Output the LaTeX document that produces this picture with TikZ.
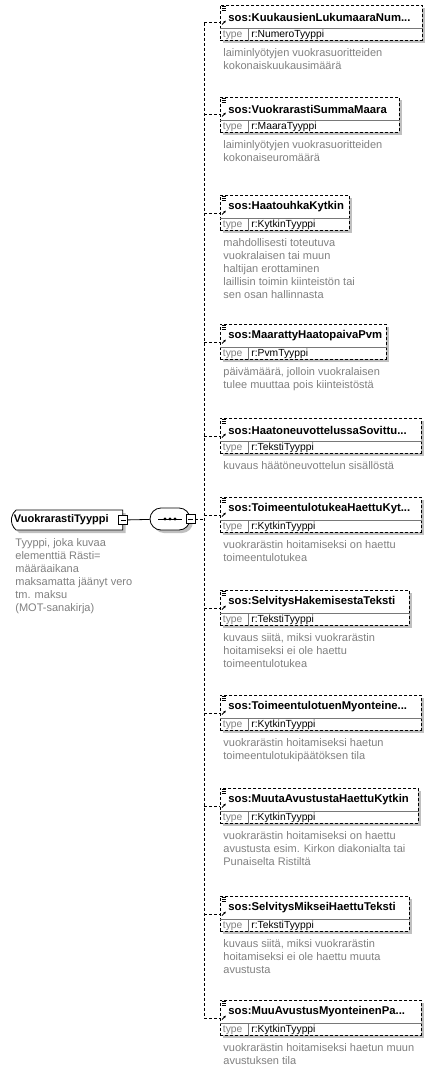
\documentclass[tikz,border=0pt]{standalone}
\usepackage{fontspec}
\setmainfont{Liberation Sans}
\usetikzlibrary{positioning, calc, arrows.meta, shadows, shapes.misc}

\definecolor{shadowgray}{RGB}{192,192,192}
\definecolor{descgray}{RGB}{128,128,128}
\definecolor{rulegray}{RGB}{120,120,120}

\begin{document}
\begin{tikzpicture}[
  x=1pt, y=-1pt, line width=0.8pt,
  >={Latex[length=2.5pt, width=2.5pt]},
  conn/.style     = {dash pattern=on 3pt off 2pt},
  boxshadow/.style= {drop shadow={shadow xshift=3pt, shadow yshift=-3pt, fill=shadowgray, opacity=1}},
  elem/.style     = {draw, conn, fill=white, rectangle, inner sep=0pt, minimum height=35pt, anchor=north west, boxshadow},
  elname/.style   = {font=\fontsize{11.3}{13}\selectfont\bfseries, inner sep=0pt, anchor=west},
  eltype/.style   = {font=\fontsize{10.3}{12}\selectfont, inner sep=0pt, anchor=west},
  desc/.style     = {font=\fontsize{11}{13}\selectfont, text=descgray, align=left, inner sep=0pt, anchor=north west},
  minusbox/.style = {draw, solid, fill=white, minimum size=9pt, inner sep=0pt,
                     path picture={\draw ([xshift=2pt]path picture bounding box.west) -- ([xshift=-2pt]path picture bounding box.east);}},
  rootbox/.style  = {draw, fill=white, rounded rectangle, rounded rectangle east arc=none, rounded rectangle arc length=100,
                     minimum height=20pt, inner xsep=0pt, inner ysep=0pt, font=\fontsize{11}{13}\selectfont\bfseries, boxshadow},
  seqbox/.style   = {draw, fill=white, rounded rectangle, minimum width=40pt, minimum height=22pt, inner sep=0pt, boxshadow},
]
  \useasboundingbox (0,0) rectangle (435,1086);

  % root type and compositor
  \node[rootbox, anchor=west] (root) at (11,520) {\kern1.5pt VuokrarastiTyyppi\kern14pt};
  \node[minusbox] (rootm) at (root.east) {};
  \node[desc] (rootdesc) at (15,538) {Tyyppi, joka kuvaa\\elementtiä Rästi=\\määräaikana\\maksamatta jäänyt vero\\tm. maksu\\(MOT-sanakirja)};

  \node[seqbox] (seq) at (170,519) {};
  \node[minusbox] (seqm) at (seq.east) {};
  \draw (seq.center) ++(-12,0) -- ++(24,0);
  \foreach \dx in {-5,0,5} \fill ($(seq.center)+(\dx,0)$) circle (1.7pt);

  \coordinate (spine) at (204,519);
  \draw (rootm) -- (seq);
  \draw[conn] (seqm.east) -- (spine);

  % child elements
  \foreach \i/\top/\w/\name/\type/\txt in {
    1/5/202/{sos:KuukausienLukumaaraNum...}/{r:NumeroTyyppi}/{laiminlyötyjen vuokrasuoritteiden\\kokonaiskuukausimäärä},
    2/97/179/{sos:VuokrarastiSummaMaara}/{r:MaaraTyyppi}/{laiminlyötyjen vuokrasuoritteiden\\kokonaiseuromäärä},
    3/195/129/{sos:HaatouhkaKytkin}/{r:KytkinTyyppi}/{mahdollisesti toteutuva\\vuokralaisen tai muun\\haltijan erottaminen\\laillisin toimin kiinteistön tai\\sen osan hallinnasta},
    4/324/166/{sos:MaarattyHaatopaivaPvm}/{r:PvmTyyppi}/{päivämäärä, jolloin vuokralaisen\\tulee muuttaa pois kiinteistöstä},
    5/418/201/{sos:HaatoneuvottelussaSovittu...}/{r:TekstiTyyppi}/{kuvaus häätöneuvottelun sisällöstä},
    6/497/201/{sos:ToimeentulotukeaHaettuKyt...}/{r:KytkinTyyppi}/{vuokrarästin hoitamiseksi on haettu\\toimeentulotukea},
    7/590/189/{sos:SelvitysHakemisestaTeksti}/{r:TekstiTyyppi}/{kuvaus siitä, miksi vuokrarästin\\hoitamiseksi ei ole haettu\\toimeentulotukea},
    8/695/201/{sos:ToimeentulotuenMyonteine...}/{r:KytkinTyyppi}/{vuokrarästin hoitamiseksi haetun\\toimeentulotukipäätöksen tila},
    9/788/198/{sos:MuutaAvustustaHaettuKytkin}/{r:KytkinTyyppi}/{vuokrarästin hoitamiseksi on haettu\\avustusta esim. Kirkon diakonialta tai\\Punaiselta Ristiltä},
    10/896/189/{sos:SelvitysMikseiHaettuTeksti}/{r:TekstiTyyppi}/{kuvaus siitä, miksi vuokrarästin\\hoitamiseksi ei ole haettu muuta\\avustusta},
    11/1000/201/{sos:MuuAvustusMyonteinenPa...}/{r:KytkinTyyppi}/{vuokrarästin hoitamiseksi haetun muun\\avustuksen tila}} {
    \node[elem, minimum width=\w pt] (el\i) at (220,\top) {};
    \draw[rulegray] ([yshift=-23pt]el\i.north west) -- ([yshift=-23pt]el\i.north east);
    \draw[rulegray] ([xshift=28pt, yshift=-23pt]el\i.north west) -- ([xshift=28pt]el\i.south west);
    \node[elname]              (nm\i) at ([xshift=8pt, yshift=-12pt]el\i.north west) {\name};
    \node[eltype, text=descgray] (tl\i) at ([xshift=2.5pt, yshift=6pt]el\i.south west) {type};
    \node[eltype]              (tv\i) at ([xshift=31pt, yshift=6pt]el\i.south west) {\type};
    \node[desc]                (ds\i) at ([xshift=3pt, yshift=-7pt]el\i.south west) {\txt};
    % element icon
    \foreach \k in {1,3,5} \draw[line width=0.7pt] ($(el\i.north west)+(1.5,\k)$) -- ++(4.5,0);
    \draw[->, line width=0.9pt] ($(el\i.north west)+(2,19.5)$) -- ++(4,-4);
    \draw[conn] (spine |- el\i.west) -- (el\i.west);
  }
  \draw[conn] (spine |- el1.west) -- (spine |- el11.west);
\end{tikzpicture}
\end{document}
